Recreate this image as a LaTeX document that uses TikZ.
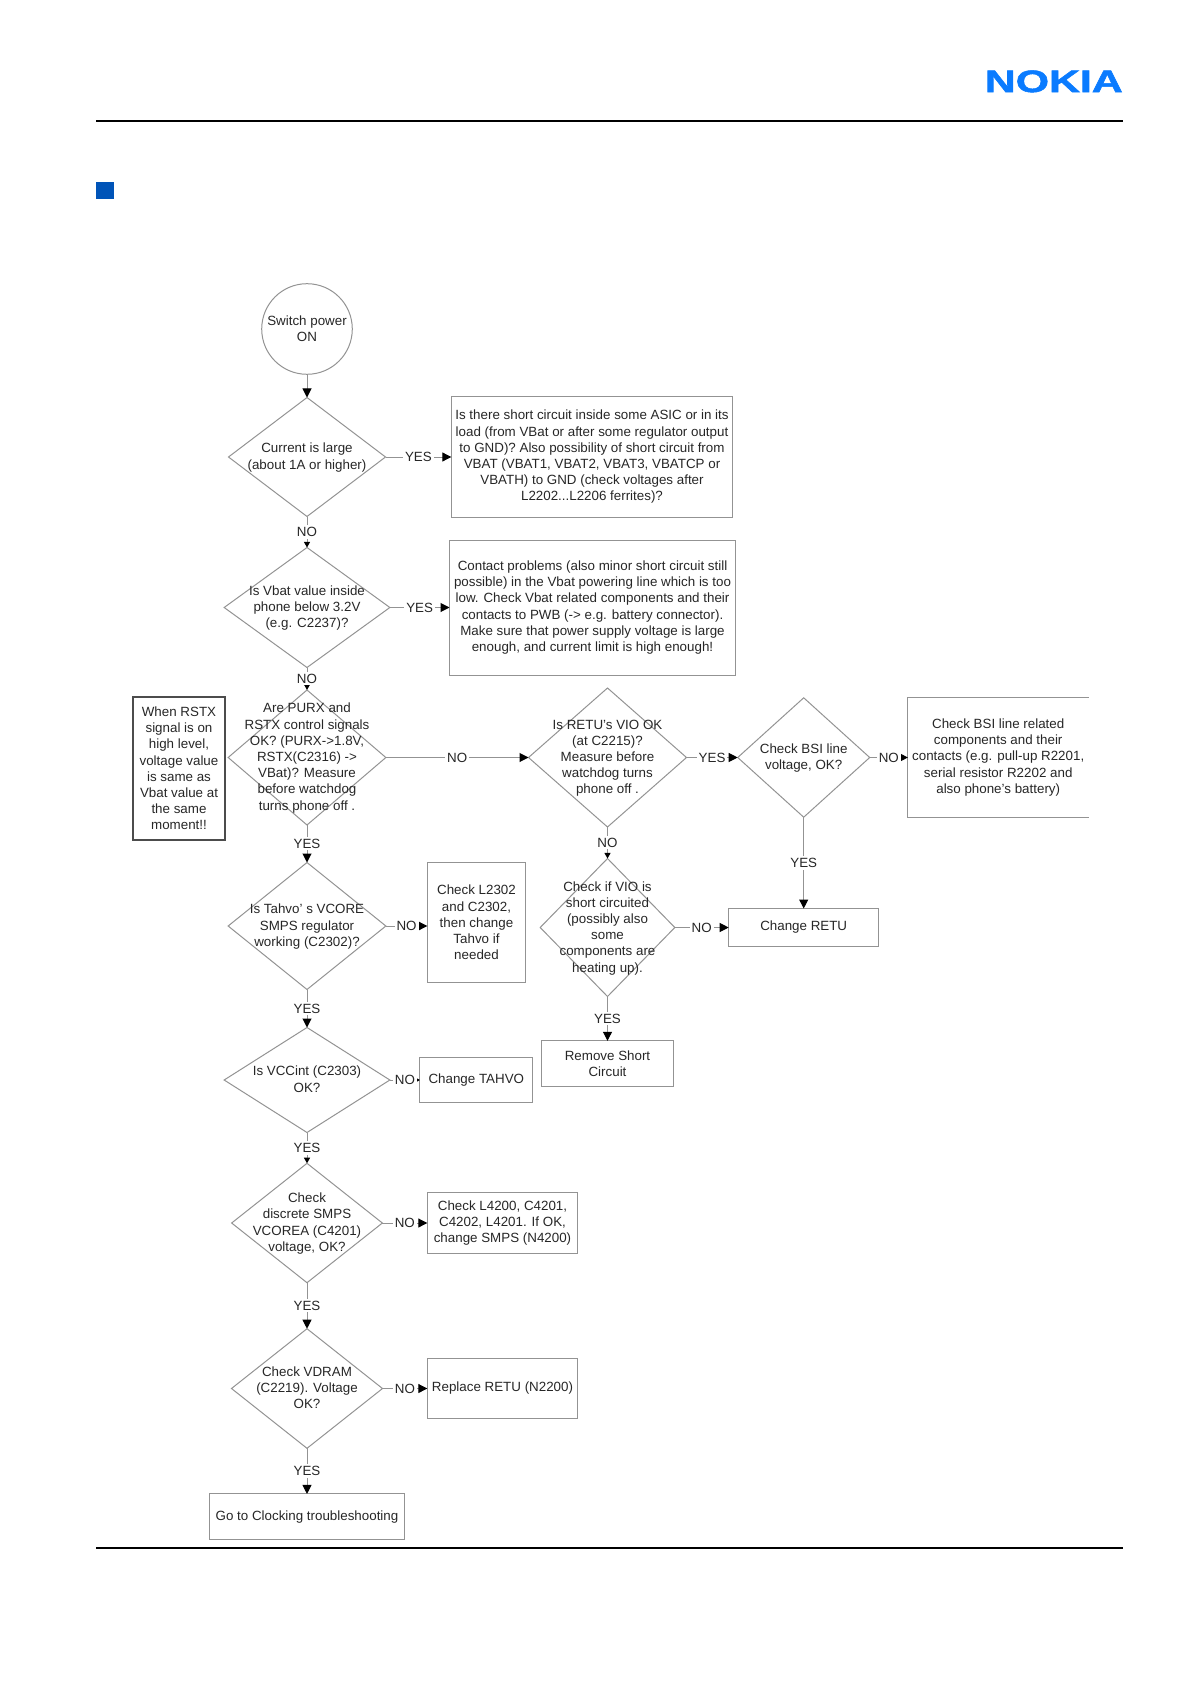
\documentclass[tikz,border=0pt]{standalone}
\usepackage{fontspec}
\setmainfont{Liberation Sans}
\newfontfamily\logofont[FakeBold=1.6]{Liberation Sans Bold}
\usetikzlibrary{shapes.geometric,arrows.meta}
\definecolor{nokiablue}{HTML}{0A7BFF}
\definecolor{markblue}{HTML}{0054B8}
\definecolor{inkgray}{HTML}{262626}
\definecolor{linegray}{HTML}{939393}
\newcommand{\dtxt}[1]{\makebox[0pt]{\smash{\raisebox{-.32em}{\begin{tabular}{@{}c@{}}#1\end{tabular}}}}}

\begin{document}
\begin{tikzpicture}[x=0.5pt,y=-0.5pt,>={Triangle[length=4.5pt,width=4.5pt,color=black,fill=black]},
  txt/.style={font=\fontsize{6.68}{8.1}\selectfont,text=inkgray,align=center,inner sep=0pt,outer sep=0pt},
  dec/.style 2 args={txt,diamond,draw=linegray,line width=0.5pt,minimum width=#1*0.5pt,minimum height=#2*0.5pt},
  act/.style 2 args={txt,rectangle,draw=linegray,line width=0.5pt,minimum width=#1*0.5pt,minimum height=#2*0.5pt},
  conn/.style={->,color=linegray,line width=0.5pt,nodes={txt,fill=white,inner xsep=1pt,inner ysep=1pt}},
  smalltip/.style={-{Triangle[length=2.8pt,width=3pt,color=black,fill=black]}}]
\useasboundingbox (0,0) rectangle (1191,1684);
\node[fill=markblue,minimum size=8.8pt,inner sep=0pt] (mark) at (104.8,190.5) {};
\node[font=\logofont\fontsize{15.5}{16}\selectfont,text=nokiablue,xscale=1.38,inner sep=0pt] (logo) at (1053.8,81.4) {NOKIA};
\draw[line width=1pt] (96,120.7) -- (1122.7,120.7);
\draw[line width=1pt] (96,1547.5) -- (1122.7,1547.5);

\node[txt,circle,draw=linegray,line width=0.5pt,minimum size=45.3pt] (start) at (307,329) {Switch power\\ON};
\node[dec={157}{119}] (d1) [below of=start,node distance=64pt] {\dtxt{Current is large\\(about 1A or higher)}};
\node[dec={165.7}{120}] (d2) [below of=d1,node distance=75.25pt] {\dtxt{Is Vbat value inside\\phone below 3.2V\\(e.g. C2237)?}};
\node[dec={157.7}{135}] (d3) [below of=d2,node distance=75pt] {\dtxt{Are PURX and\\RSTX control signals\\OK? (PURX->1.8V,\\RSTX(C2316) ->\\VBat)? Measure\\before watchdog\\turns phone off .}};
\node[dec={157.7}{127}] (d4) [below of=d3,node distance=84.25pt] {\dtxt{Is Tahvo' s VCORE\\SMPS regulator\\working (C2302)?}};
\node[dec={165.7}{105}] (d8) [below of=d4,node distance=77pt] {\dtxt{Is VCCint (C2303)\\OK?}};
\node[dec={150.7}{119.4}] (d9) [below of=d8,node distance=71.5pt] {\dtxt{Check\\discrete SMPS\\VCOREA (C4201)\\voltage, OK?}};
\node[dec={151}{119.6}] (d10) [below of=d9,node distance=82.75pt] {\dtxt{Check VDRAM\\(C2219). Voltage\\OK?}};
\node[act={195.7}{45.7}] (clock) [below of=d10,node distance=64.15pt] {Go to Clocking troubleshooting};

\node[act={281.4}{120}] (box1) [right of=d1,node distance=142.5pt] {Is there short circuit inside some ASIC or in its\\load (from VBat or after some regulator output\\to GND)? Also possibility of short circuit from\\VBAT (VBAT1, VBAT2, VBAT3, VBATCP or\\VBATH) to GND (check voltages after\\L2202...L2206 ferrites)?};
\node[act={286}{135}] (box2) [right of=d2,node distance=142.75pt] {Contact problems (also minor short circuit still\\possible) in the Vbat powering line which is too\\low. Check Vbat related components and their\\contacts to PWB (-> e.g. battery connector).\\Make sure that power supply voltage is large\\enough, and current limit is high enough!};
\node[act={91.4}{143.6},draw=black!70,line width=1pt] (note) [left of=d3,node distance=64pt,yshift=-5.5pt] {When RSTX\\signal is on\\high level,\\voltage value\\is same as\\Vbat value at\\the same\\moment!!};

\node[dec={158}{139}] (d5) [right of=d3,node distance=150.25pt] {\dtxt{Is RETU's VIO OK\\(at C2215)?\\Measure before\\watchdog turns\\phone off .}};
\node[dec={132}{119.4}] (d6) [right of=d5,node distance=98.1pt] {\dtxt{Check BSI line\\voltage, OK?}};
\node[txt,minimum width=90.3pt,minimum height=59.85pt] (bsi) [right of=d6,node distance=97.25pt] {Check BSI line related\\components and their\\contacts (e.g. pull-up R2201,\\serial resistor R2202 and\\also phone's battery)};
\draw[linegray,line width=0.5pt] (bsi.north east) -- (bsi.north west) -- (bsi.south west) -- (bsi.south east);
\node[dec={134.6}{138}] (d7) [below of=d5,node distance=85pt] {\dtxt{Check if VIO is\\short circuited\\(possibly also\\some\\components are\\heating up).}};
\node[act={150}{38}] (retu) [right of=d7,node distance=98.1pt] {Change RETU};
\node[act={131.7}{45.4}] (remove) [below of=d7,node distance=68pt] {Remove Short\\Circuit};

\node[act={98.4}{120.4}] (tbox) [right of=d4,node distance=84.75pt,yshift=1.75pt] {Check L2302\\and C2302,\\then change\\Tahvo if\\needed};
\node[act={112.7}{45.4}] (tahvo) [right of=d8,node distance=84.65pt] {Change TAHVO};
\node[act={150.4}{60.4}] (smps) [right of=d9,node distance=97.75pt] {Check L4200, C4201,\\C4202, L4201. If OK,\\change SMPS (N4200)};
\node[act={150.4}{60.4}] (replace) [right of=d10,node distance=97.75pt] {Replace RETU (N2200)};

\path[conn] (start) edge (d1)
(d1) edge node {YES} (box1) edge[smalltip] node {NO} (d2)
(d2) edge node {YES} (box2) edge[smalltip] node {NO} (d3)
(d3) edge node {NO} (d5) edge node {YES} (d4)
(d4.east) edge node {NO} (d4.east -| tbox.west) (d4) edge node {YES} (d8)
(d8) edge[smalltip] node {NO} (tahvo) edge[smalltip] node {YES} (d9)
(d9) edge node {NO} (smps) edge node {YES} (d10)
(d10) edge node {NO} (replace) edge node {YES} (clock)
(d5) edge node {YES} (d6) edge[smalltip] node {NO} (d7)
(d6) edge node {NO} (bsi) edge node {YES} (retu)
(d7) edge node {NO} (retu) edge node {YES} (remove);
\end{tikzpicture}
\end{document}
